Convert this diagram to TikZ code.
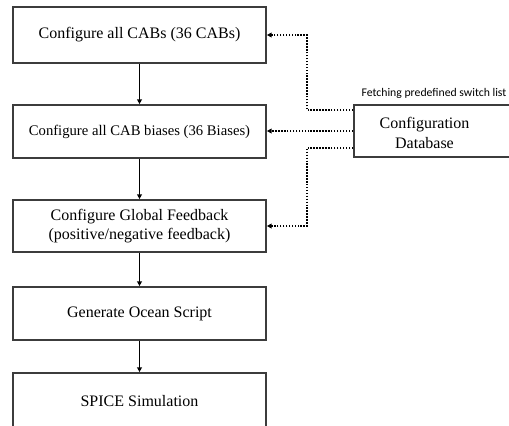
\documentclass[tikz,border=0pt]{standalone}
\usepackage{fontspec}
\setmainfont{Liberation Serif}
\newfontfamily\notefont{Carlito}
\usepackage{tikz}
\usetikzlibrary{calc,arrows.meta,positioning}
\definecolor{frame}{HTML}{3C3C3C}
\definecolor{ink}{HTML}{000000}
\tikzset{
  stage/.style={draw=frame, line width=1.3pt, minimum width=189.75pt, minimum height=39.75pt, inner sep=2pt, align=center, text=ink, font=\fontsize{12}{14.5}\selectfont},
  flow/.style={draw=ink, line width=0.9pt, -{Triangle[length=3.5pt,width=3.5pt]}},
  fetch/.style={draw=ink, line width=1pt, dash pattern=on 1.1pt off 1.1pt, -{Triangle[length=3.5pt,width=3.5pt]}},
  note/.style={text=ink, font=\notefont\fontsize{8.8}{10}\selectfont, inner sep=0pt},
}

\begin{document}
\begin{tikzpicture}[x=0.75pt,y=-0.75pt]
\useasboundingbox (0,0) rectangle (509,425);
\clip (0,0) rectangle (509,425);
\node[stage, minimum height=42pt] (cab) at (139.5,35) {Configure all CABs (36 CABs)};
\node[stage, font=\fontsize{11}{13}\selectfont] (bias) at (139.5,131.5) {Configure all CAB biases (36 Biases)};
\node[stage, minimum height=39pt] (fb) at (139.5,226) {Configure Global Feedback\\(positive/negative feedback)};
\node[stage] (ocean) at (139.5,313.5) {Generate Ocean Script};
\node[stage, minimum height=42pt] (spice) at (139.5,401) {SPICE Simulation};
\foreach \a/\b in {cab/bias,bias/fb,fb/ocean,ocean/spice}
  \draw[flow] (\a) -- (\b);

\node[stage, minimum width=150pt, minimum height=39pt, anchor=west] (db) at (353,131) {};
\node[align=center, text=ink, font=\fontsize{12}{15}\selectfont] (dbtext) at (424.5,133) {Configuration\\Database};
\node[note] (fetchnote) at (434,93) {Fetching predefined switch list};

\draw[fetch] ($(db.west)+(0,-21)$) -| ($(cab.east)+(40,0)$) -- (cab.east);
\draw[fetch] (db.west) -- (db.west -| bias.east);
\draw[fetch] ($(db.west)+(0,17)$) -| ($(fb.east)+(40,0)$) -- (fb.east);
\end{tikzpicture}
\end{document}
